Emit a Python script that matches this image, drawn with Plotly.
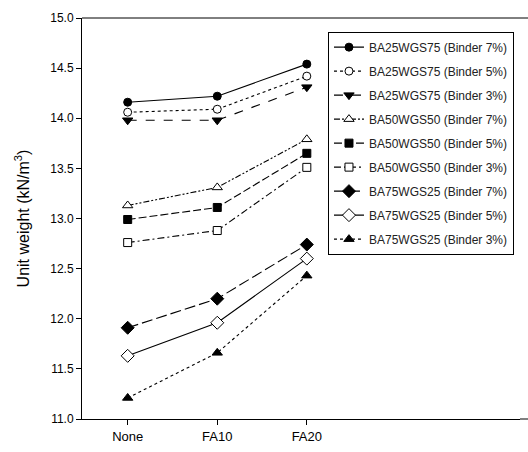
import plotly.graph_objects as go

categories = ["None", "FA10", "FA20"]
series_names = [
    "BA25WGS75 (Binder 7%)", "BA25WGS75 (Binder 5%)", "BA25WGS75 (Binder 3%)",
    "BA50WGS50 (Binder 7%)", "BA50WGS50 (Binder 5%)", "BA50WGS50 (Binder 3%)",
    "BA75WGS25 (Binder 7%)", "BA75WGS25 (Binder 5%)", "BA75WGS25 (Binder 3%)",
]
ba25_b7 = [14.16, 14.22, 14.54]
ba25_b5 = [14.06, 14.09, 14.42]
ba25_b3 = [13.98, 13.98, 14.31]
ba50_b7 = [13.13, 13.31, 13.79]
ba50_b5 = [12.99, 13.11, 13.65]
ba50_b3 = [12.76, 12.88, 13.51]
ba75_b7 = [11.91, 12.20, 12.74]
ba75_b5 = [11.63, 11.96, 12.60]
ba75_b3 = [11.21, 11.66, 12.43]
values = [ba25_b7, ba25_b5, ba25_b3, ba50_b7, ba50_b5, ba50_b3, ba75_b7, ba75_b5, ba75_b3]

# (symbol, filled, dash)
styles = [
    ("circle", True, "solid"),
    ("circle", False, "dot"),
    ("triangle-down", True, "dash"),
    ("triangle-up", False, "6px,2px,2px,2px,2px,2px"),
    ("square", True, "8px,3px"),
    ("square", False, "7px,3px,2px,3px"),
    ("diamond", True, "11px,4px"),
    ("diamond", False, "solid"),
    ("triangle-up", True, "dot"),
]
sizes = [8, 8, 9, 9, 8, 8, 10, 10, 9]

FONT = "Liberation Sans, Arial, sans-serif"

fig = go.Figure()
for i, (name, vals) in enumerate(zip(series_names, values)):
    sym, filled, dash = styles[i]
    fig.add_trace(go.Scatter(
        x=[0, 1, 2], y=vals, name=name, mode="lines+markers",
        legendgroup=f"g{i}",
        line=dict(color="black", width=1.1, dash=dash),
        marker=dict(symbol=sym, size=sizes[i], color="black" if filled else "white",
                    line=dict(color="black", width=1)),
    ))

# top frame line (the frame's right side lies outside the reference crop)
fig.add_shape(type="line", xref="paper", yref="paper", x0=0, x1=1.1, y0=1, y1=1,
              line=dict(color="black", width=1))
fig.add_shape(type="line", xref="paper", yref="paper", x0=1, x1=1.1, y0=0, y1=0,
              line=dict(color="black", width=1))

fig.update_layout(
    width=528, height=452,
    margin=dict(l=82, r=8, t=18, b=33),
    paper_bgcolor="white", plot_bgcolor="white",
    font=dict(family=FONT, color="black"),
    showlegend=True,
    hovermode=False,
    legend=dict(
        x=0.5616, y=0.966, xanchor="left", yanchor="top",
        bordercolor="black", borderwidth=1, bgcolor="white",
        font=dict(size=12, family=FONT, color="#222222"),
        tracegroupgap=5, itemwidth=30,
    ),
    xaxis=dict(
        range=[-0.51, 4.38], tickmode="array", tickvals=[0, 1, 2], ticktext=categories,
        showline=True, linecolor="black", linewidth=1, mirror=False,
        ticks="outside", ticklen=5, tickcolor="black", showgrid=False, zeroline=False,
        tickfont=dict(size=13, family=FONT),
    ),
    yaxis=dict(
        range=[11.0, 15.0], tickmode="array",
        tickvals=[11.0, 11.5, 12.0, 12.5, 13.0, 13.5, 14.0, 14.5, 15.0],
        ticktext=["11.0", "11.5", "12.0", "12.5", "13.0", "13.5", "14.0", "14.5", "15.0"],
        showline=True, linecolor="black", linewidth=1, mirror=False,
        ticks="outside", ticklen=5, tickcolor="black", showgrid=False, zeroline=False,
        tickfont=dict(size=12, family=FONT),
        title=dict(text="Unit weight (kN/m<sup>3</sup>)", standoff=16,
                   font=dict(size=16, family=FONT)),
    ),
)

fig.write_html(
    "out.html",
    config={"displayModeBar": False},
    post_script="document.body.style.margin='0';document.body.style.overflow='hidden';",
)
